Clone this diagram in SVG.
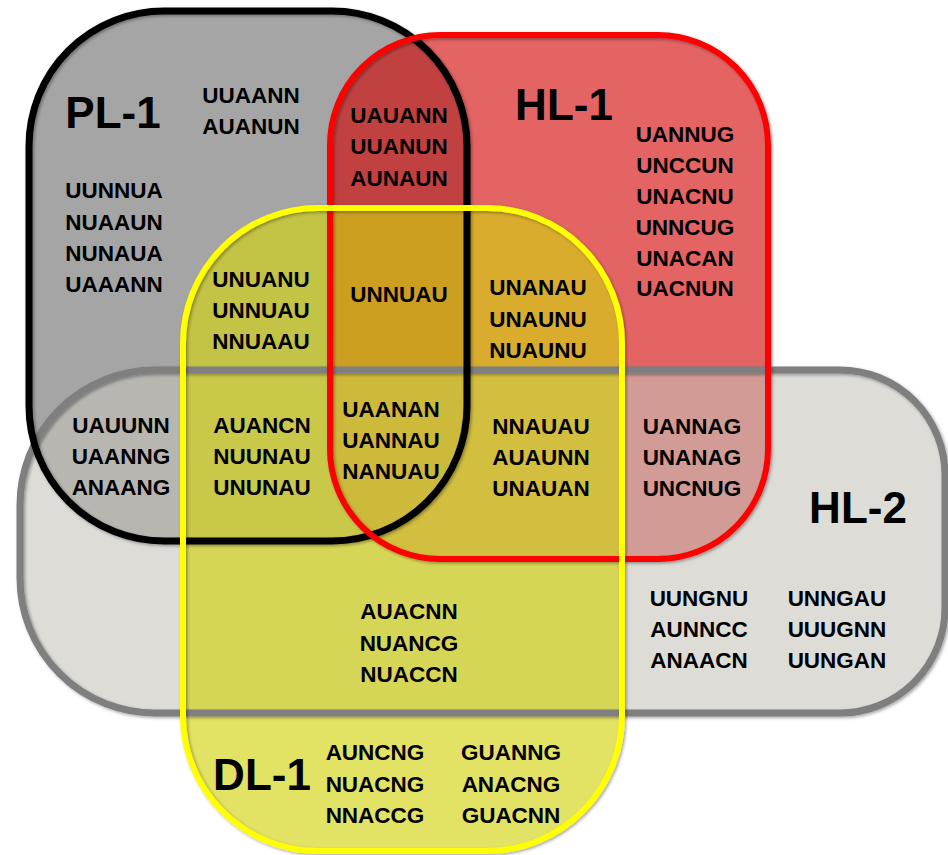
<svg xmlns="http://www.w3.org/2000/svg" width="948" height="855" viewBox="0 0 948 855">
<style>
.t{font-family:"Liberation Sans",Arial,sans-serif;font-weight:bold;font-size:22.5px;fill:#000;text-anchor:middle}
.title{font-family:"Liberation Sans",Arial,sans-serif;font-weight:bold;font-size:44px;fill:#000;text-anchor:middle}
.outline{fill:none;filter:url(#sh)}
</style>
<defs>
<filter id="sh" x="-5%" y="-5%" width="110%" height="110%">
<feDropShadow dx="1.5" dy="1.5" stdDeviation="1.8" flood-color="#000" flood-opacity="0.35"/>
</filter>
</defs>
<rect width="948" height="855" fill="#fff"/>
<g id="PL-1">
<rect x="29" y="11" width="438" height="530" rx="135" fill="#a5a5a5"/>
<text class="title" x="113" y="128">PL-1</text>
</g>
<g id="HL-1">
<rect x="330" y="35" width="438" height="524" rx="110" fill="#d30202" fill-opacity="0.61"/>
<text class="title" x="564" y="120">HL-1</text>
</g>
<g id="HL-2">
<path d="M155 370 H840 A105 105 0 0 1 945 475 V608 A105 105 0 0 1 840 713 H155 A135 135 0 0 1 20 578 V505 A135 135 0 0 1 155 370 Z" fill="#c5c3ba" fill-opacity="0.58"/>
<text class="title" x="858" y="523">HL-2</text>
</g>
<g id="DL-1">
<rect x="183" y="208" width="439" height="643" rx="135" fill="#d3d311" fill-opacity="0.65"/>
<text class="title" x="262" y="790">DL-1</text>
</g>
<g id="connectors">
<path class="outline" d="M155 370 H840 A105 105 0 0 1 945 475 V608 A105 105 0 0 1 840 713 H155 A135 135 0 0 1 20 578 V505 A135 135 0 0 1 155 370 Z" stroke="#7f7f7f" stroke-width="7"/>
<rect class="outline" x="29" y="11" width="438" height="530" rx="135" stroke="#000" stroke-width="7"/>
<rect class="outline" x="330" y="35" width="438" height="524" rx="110" stroke="#ff0000" stroke-width="6"/>
<rect class="outline" x="183" y="208" width="439" height="643" rx="135" stroke="#ffff00" stroke-width="6"/>
</g>
<g id="labels">
<text class="t" x="251" y="103">UUAANN</text>
<text class="t" x="251" y="134">AUANUN</text>
<text class="t" x="114" y="198">UUNNUA</text>
<text class="t" x="114" y="230">NUAAUN</text>
<text class="t" x="114" y="261">NUNAUA</text>
<text class="t" x="114" y="292">UAAANN</text>
<text class="t" x="399" y="123">UAUANN</text>
<text class="t" x="399" y="154">UUANUN</text>
<text class="t" x="399" y="186">AUNAUN</text>
<text class="t" x="685" y="142">UANNUG</text>
<text class="t" x="685" y="173">UNCCUN</text>
<text class="t" x="685" y="204">UNACNU</text>
<text class="t" x="685" y="235">UNNCUG</text>
<text class="t" x="685" y="266">UNACAN</text>
<text class="t" x="685" y="296">UACNUN</text>
<text class="t" x="261" y="287">UNUANU</text>
<text class="t" x="261" y="318">UNNUAU</text>
<text class="t" x="261" y="349">NNUAAU</text>
<text class="t" x="399" y="302">UNNUAU</text>
<text class="t" x="538" y="295">UNANAU</text>
<text class="t" x="538" y="327">UNAUNU</text>
<text class="t" x="538" y="358">NUAUNU</text>
<text class="t" x="121" y="433">UAUUNN</text>
<text class="t" x="121" y="464">UAANNG</text>
<text class="t" x="121" y="495">ANAANG</text>
<text class="t" x="262" y="433">AUANCN</text>
<text class="t" x="262" y="464">NUUNAU</text>
<text class="t" x="262" y="495">UNUNAU</text>
<text class="t" x="391" y="417">UAANAN</text>
<text class="t" x="391" y="448">UANNAU</text>
<text class="t" x="391" y="479">NANUAU</text>
<text class="t" x="541" y="434">NNAUAU</text>
<text class="t" x="541" y="465">AUAUNN</text>
<text class="t" x="541" y="496">UNAUAN</text>
<text class="t" x="692" y="434">UANNAG</text>
<text class="t" x="692" y="465">UNANAG</text>
<text class="t" x="692" y="496">UNCNUG</text>
<text class="t" x="699" y="606">UUNGNU</text>
<text class="t" x="699" y="637">AUNNCC</text>
<text class="t" x="699" y="668">ANAACN</text>
<text class="t" x="837" y="606">UNNGAU</text>
<text class="t" x="837" y="637">UUUGNN</text>
<text class="t" x="837" y="668">UUNGAN</text>
<text class="t" x="409" y="619">AUACNN</text>
<text class="t" x="409" y="651">NUANCG</text>
<text class="t" x="409" y="682">NUACCN</text>
<text class="t" x="375" y="760">AUNCNG</text>
<text class="t" x="375" y="792">NUACNG</text>
<text class="t" x="375" y="823">NNACCG</text>
<text class="t" x="511" y="760">GUANNG</text>
<text class="t" x="511" y="792">ANACNG</text>
<text class="t" x="511" y="823">GUACNN</text>
</g>
</svg>
